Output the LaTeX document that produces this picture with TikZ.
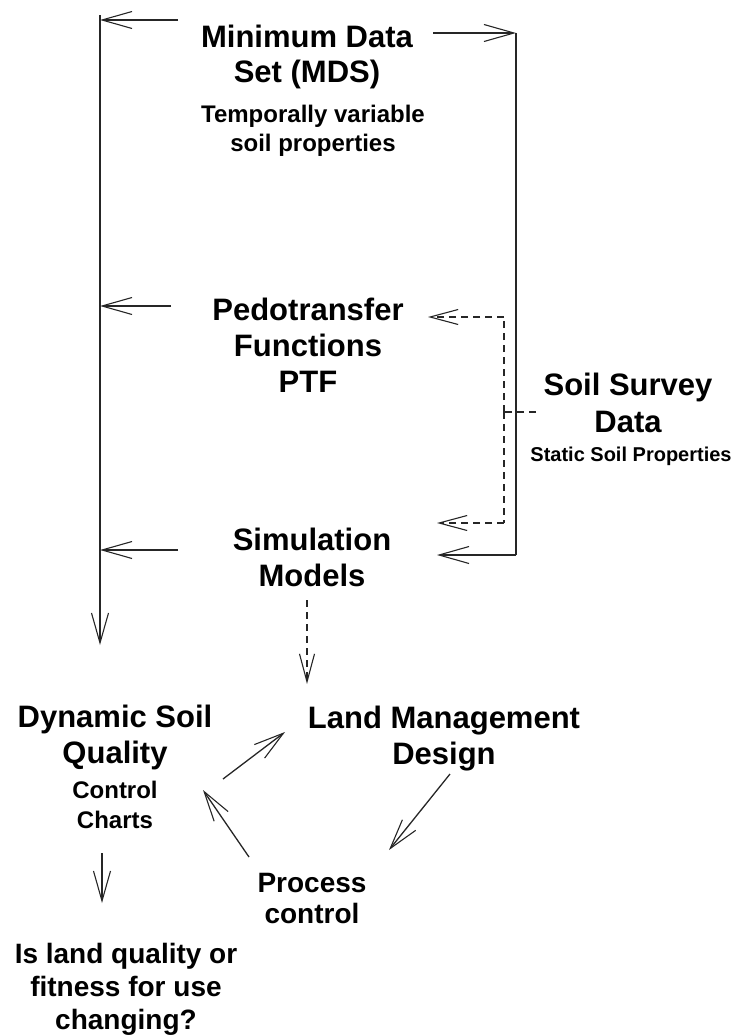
\documentclass[tikz,border=0pt]{standalone}
\usepackage{fontspec}
\setmainfont{Liberation Sans}
\usetikzlibrary{arrows.meta}
\tikzset{
  txt/.style={inner sep=0pt, outer sep=0pt, align=center, anchor=north},
  big/.style={txt, font=\fontsize{31}{36}\selectfont\bfseries},
  mid/.style={txt, font=\fontsize{28}{33}\selectfont\bfseries},
  sml/.style={txt, font=\fontsize{24}{29}\selectfont\bfseries},
  tny/.style={txt, font=\fontsize{20}{24}\selectfont\bfseries},
  conn/.style={line width=1.3pt, draw=black!85},
  arr/.style={conn, -{Straight Barb[length=30pt,width=17pt,line width=1.1pt]}},
  dconn/.style={conn, dash pattern=on 7pt off 5pt},
  darr/.style={dconn, -{Straight Barb[length=28pt,width=15pt,line width=1.1pt]}}
}
\begin{document}
\begin{tikzpicture}[x=1pt,y=-1pt]
\useasboundingbox (0,0) rectangle (738,1036);
% texts
\node[big] (mds) at (307,25) {Minimum Data\\[-1pt]Set (MDS)};
\node[sml] (tvs) at (313,105) {Temporally variable\\soil properties};
\node[big] (ptf) at (308,298) {Pedotransfer\\Functions\\PTF};
\node[big] (sim) at (312,528) {Simulation\\Models};
\node[big] (ssd) at (628,373) {Soil Survey\\[1pt]Data};
\node[tny] (ssp) at (631,447) {Static Soil Properties};
\node[big] (dsq) at (115,705) {Dynamic Soil\\Quality};
\node[sml] (cc) at (115,781) {Control\\[1pt]Charts};
\node[big] (lmd) at (444,706) {Land Management\\Design};
\node[mid] (pc) at (312,873) {Process\\[-2pt]control};
\node[mid] (q) at (126,943) {Is land quality or\\fitness for use\\changing?};
% coordinates
\coordinate (ltop) at (100,15);
\coordinate (lbot) at (100,645);
\coordinate (lmds) at (100,20);
\coordinate (lptf) at (100,306);
\coordinate (lsim) at (100,550);
\coordinate (rtop) at (516,33);
\coordinate (rbot) at (516,555);
\coordinate (dtop) at (504,317);
\coordinate (dbot) at (504,523);
\coordinate (dmid) at (504,412);
\coordinate (ssin) at (536,412);
% MDS
\draw[arr] (178,20) coordinate (mdsL) -- (lmds);
\draw[arr] (433,33) coordinate (mdsR) -- (rtop);
\draw[arr] (ltop) -- (lbot);
\draw[conn] (rtop) -- (rbot);
\draw[arr] (rbot) -- (437,555) coordinate (simR);
\draw[arr] (171,306) coordinate (ptfL) -- (lptf);
\draw[arr] (178,550) coordinate (simL) -- (lsim);
% soil survey dashed
\draw[dconn] (ssin) -- (dmid);
\draw[dconn] (dmid) -- (dtop);
\draw[dconn] (dmid) -- (dbot);
\draw[darr] (dtop) -- (428,317) coordinate (ptfR);
\draw[darr] (dbot) -- (437,523) coordinate (simR2);
% simulation to land management
\draw[darr] (307,600) coordinate (simB) -- (307,684) coordinate (lmdT);
% cycle
\draw[arr] (223,779) coordinate (dsqR) -- (285,732) coordinate (lmdL);
\draw[arr] (450,774) coordinate (lmdB) -- (389,850) coordinate (pcR);
\draw[arr] (249,857) coordinate (pcT) -- (203,790) coordinate (dsqB);
\draw[arr] (102,853) coordinate (ccB) -- (102,903) coordinate (qT);
\end{tikzpicture}
\end{document}
